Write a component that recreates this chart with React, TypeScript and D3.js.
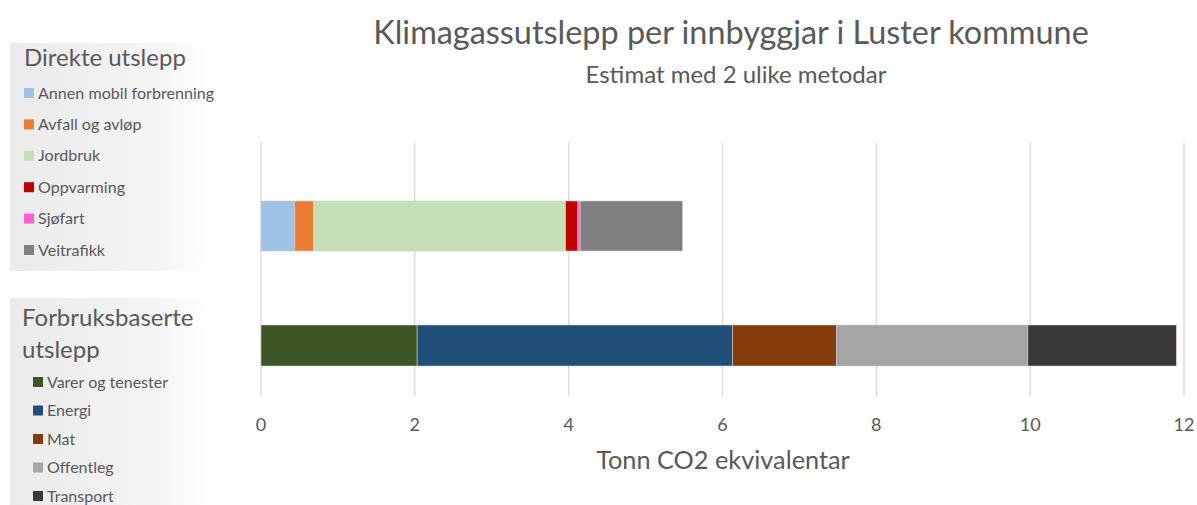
import React from "react";
import { scaleLinear, scalePoint } from "d3";

// categories (rows) and series values, tonn CO2 per innbyggjar
const rows = ["Direkte utslepp", "Forbruksbaserte utslepp"];

const directNames = [
  "Annen mobil forbrenning",
  "Avfall og avløp",
  "Jordbruk",
  "Oppvarming",
  "Sjøfart",
  "Veitrafikk",
];
const directValues = [0.44, 0.24, 3.28, 0.16, 0.03, 1.33];
const directColors = ["#9dc3e6", "#ed7d31", "#c5e0b4", "#c00000", "#ff5fd0", "#7f7f7f"];

const consumptionNames = ["Varer og tenester", "Energi", "Mat", "Offentleg", "Transport"];
const consumptionValues = [2.03, 4.1, 1.35, 2.49, 1.93];
const consumptionColors = ["#3b5524", "#1f4e79", "#843c0c", "#a5a5a5", "#3a3838"];

const xTicks = [0, 2, 4, 6, 8, 10, 12];

const textColor = "#595959";
const font = "Lato, 'Open Sans', sans-serif";

function stack(values: number[]) {
  let acc = 0;
  return values.map((v) => {
    const s = { x0: acc, x1: acc + v };
    acc += v;
    return s;
  });
}

export default function App() {
  const width = 1197;
  const height = 505;
  const plot = { left: 261, right: 1184, top: 143, bottom: 396 };

  const x = scaleLinear().domain([0, 12]).range([plot.left, plot.right]);
  const y = scalePoint<string>().domain(rows).range([226, 345.5]);
  const barH: Record<string, number> = { [rows[0]]: 50, [rows[1]]: 41 };

  const series = [
    { row: rows[0], values: directValues, colors: directColors },
    { row: rows[1], values: consumptionValues, colors: consumptionColors },
  ];

  return (
    <svg
      width={width}
      height={height}
      style={{ position: "absolute", left: 0, top: 0, fontFamily: font }}
    >
      <defs>
        <linearGradient id="legendBg" x1="0" x2="1" y1="0" y2="0">
          <stop offset="0%" stopColor="#ebebeb" />
          <stop offset="70%" stopColor="#f4f4f4" />
          <stop offset="100%" stopColor="#ffffff" />
        </linearGradient>
      </defs>
      <rect width={width} height={height} fill="#fff" />

      {/* title */}
      <text x={731} y={44} textAnchor="middle" fontSize={32.4} fill={textColor}>
        Klimagassutslepp per innbyggjar i Luster kommune
      </text>
      <text x={736} y={83} textAnchor="middle" fontSize={24} fill={textColor}>
        Estimat med 2 ulike metodar
      </text>

      {/* gridlines */}
      {xTicks.map((t) => (
        <line
          key={t}
          x1={x(t)}
          x2={x(t)}
          y1={plot.top}
          y2={plot.bottom}
          stroke="#d9d9d9"
          strokeWidth={1.3}
        />
      ))}

      {/* bars */}
      {series.map((s) =>
        stack(s.values).map((d, i) => (
          <rect
            key={s.row + i}
            x={x(d.x0)}
            width={x(d.x1) - x(d.x0)}
            y={(y(s.row) as number) - barH[s.row] / 2}
            height={barH[s.row]}
            fill={s.colors[i]}
            stroke="#d0d0d0"
            strokeWidth={0.6}
          />
        ))
      )}

      {/* x axis ticks */}
      {xTicks.map((t) => (
        <text
          key={t}
          x={x(t)}
          y={431}
          textAnchor="middle"
          fontSize={18}
          fill={textColor}
        >
          {t}
        </text>
      ))}
      <text x={723} y={469} textAnchor="middle" fontSize={25.3} fill={textColor}>
        Tonn CO2 ekvivalentar
      </text>

      {/* legend: direkte */}
      <rect x={10} y={43} width={202} height={228} fill="url(#legendBg)" />
      <text x={24} y={66} fontSize={24} fill={textColor}>
        Direkte utslepp
      </text>
      {directNames.map((n, i) => {
        const cy = 93 + i * 31.4;
        return (
          <g key={n}>
            <rect x={24} y={cy - 5} width={10} height={10} fill={directColors[i]} />
            <text x={38} y={cy + 5.5} fontSize={16.1} fill={textColor}>
              {n}
            </text>
          </g>
        );
      })}

      {/* legend: forbruksbaserte */}
      <rect x={10} y={298} width={202} height={207} fill="url(#legendBg)" />
      <text x={22} y={326} fontSize={24} fill={textColor}>
        Forbruksbaserte
      </text>
      <text x={22} y={358} fontSize={24} fill={textColor}>
        utslepp
      </text>
      {consumptionNames.map((n, i) => {
        const cy = 382 + i * 28.5;
        return (
          <g key={n}>
            <rect x={33} y={cy - 5} width={10} height={10} fill={consumptionColors[i]} />
            <text x={47} y={cy + 5.5} fontSize={16} fill={textColor}>
              {n}
            </text>
          </g>
        );
      })}
    </svg>
  );
}
